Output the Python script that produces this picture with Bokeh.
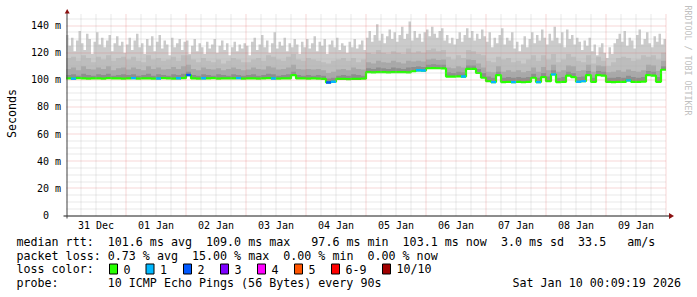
import numpy as np
from bokeh.plotting import figure
from bokeh.models import Range1d
from bokeh.core.properties import value
from bokeh.embed import file_html
from bokeh.resources import INLINE

# ---------------- data ----------------
day_labels = ["31 Dec", "01 Jan", "02 Jan", "03 Jan", "04 Jan",
              "05 Jan", "06 Jan", "07 Jan", "08 Jan", "09 Jan"]
# 2-hour bins, hours since 31 Dec 00:00
bin_hours = list(range(0, 240, 2))
# 1-hour bins for the top of the smoke
hour_bins = list(range(0, 240))

median_ms = [
    101.0, 100.8, 101.2, 101.0, 100.9, 101.1, 101.0, 100.8, 101.2, 101.0, 101.1, 100.9,
    101.0, 101.2, 100.9, 101.0, 101.1, 100.8, 101.0, 101.2, 101.0, 100.9, 101.1, 101.2,
    103.5, 101.0, 100.9, 101.1, 101.0, 101.2, 100.9, 101.0, 101.1, 101.0, 101.2, 100.9,
    101.0, 101.1, 100.9, 101.0, 101.2, 101.0, 100.8, 101.1, 101.0, 103.5, 101.0, 101.1,
    100.9, 101.0, 100.8, 100.6, 98.0, 98.5, 100.6, 100.7, 100.5, 100.7, 100.6, 100.8,
    105.6, 105.5, 105.7, 105.6, 105.5, 105.6, 105.7, 105.6, 105.5, 106.3, 107.0, 106.8,
    108.5, 108.6, 108.5, 108.4, 102.4, 102.3, 102.5, 102.4, 108.0, 108.1, 105.0, 101.5,
    99.0, 98.3, 103.5, 98.3, 98.5, 98.3, 98.4, 98.2, 98.5, 101.5, 98.3, 102.0,
    99.0, 104.0, 98.3, 98.4, 103.0, 102.0, 98.5, 99.0, 103.5, 98.4, 103.5, 103.0,
    98.4, 98.3, 98.5, 98.4, 99.6, 98.5, 98.4, 98.6, 103.5, 103.0, 98.5, 107.4,
]
loss_pings = [
    0, 1, 0, 0, 0, 0, 0, 0, 0, 0, 0, 0,
    0, 1, 0, 0, 0, 0, 1, 0, 0, 0, 1, 0,
    2, 0, 0, 1, 0, 0, 0, 0, 0, 0, 1, 0,
    0, 0, 0, 0, 0, 1, 0, 0, 0, 0, 0, 0,
    0, 0, 0, 0, 2, 1, 0, 0, 0, 0, 0, 0,
    0, 0, 0, 0, 0, 0, 0, 0, 0, 0, 1, 1,
    0, 0, 0, 0, 0, 0, 0, 1, 0, 0, 0, 0,
    0, 1, 0, 0, 0, 1, 0, 0, 0, 0, 1, 0,
    0, 1, 0, 0, 0, 0, 1, 1, 0, 0, 0, 0,
    0, 0, 0, 0, 1, 0, 0, 0, 0, 0, 0, 0,
]
max_ms = [  # hourly
    133, 125, 131, 121, 129, 136, 127, 122, 134, 130, 119, 128, 135, 126, 131, 124, 129, 133, 121, 127, 132, 125, 128, 120,
    126, 131, 122, 129, 134, 124, 127, 119, 130, 125, 132, 121, 128, 133, 123, 129, 126, 118, 131, 124, 127, 130, 122, 128,
    129, 119, 125, 130, 121, 127, 124, 119, 128, 123, 126, 130, 120, 125, 129, 122, 127, 118, 124, 128, 121, 126, 123, 127,
    125, 118, 128, 131, 122, 126, 133, 124, 129, 120, 127, 135, 123, 128, 125, 131, 121, 127, 124, 130, 126, 119, 128, 124,
    130, 123, 127, 132, 121, 128, 125, 130, 119, 126, 129, 124, 131, 122, 127, 125, 120, 128, 124, 130, 123, 126, 129, 122,
    131, 136, 128, 133, 141, 129, 134, 127, 132, 137, 130, 135, 128, 133, 139, 130, 134, 143, 129, 136, 131, 134, 128, 135,
    137, 132, 139, 134, 131, 136, 138, 129, 133, 127, 131, 126, 130, 135, 128, 133, 138, 131, 136, 129, 134, 130, 137, 132,
    128, 135, 124, 131, 127, 133, 138, 126, 131, 129, 135, 123, 128, 121, 126, 132, 124, 130, 135, 127, 133, 129, 137, 131,
    126, 134, 129, 139, 131, 127, 135, 124, 137, 130, 133, 126, 131, 128, 122, 129, 125, 131, 121, 126, 118, 124, 127, 120,
    116, 124, 119, 127, 130, 134, 128, 136, 125, 131, 129, 123, 133, 137, 126, 130, 135, 127, 124, 132, 128, 134, 126, 130,
]
p90_ms = [
    116, 117, 114, 118, 116, 113, 117, 115, 118, 114, 116, 117,
    115, 117, 114, 113, 118, 115, 116, 114, 115, 117, 114, 118,
    118, 115, 113, 116, 114, 113, 115, 112, 114, 116, 115, 113,
    113, 115, 116, 114, 118, 117, 115, 114, 117, 119, 115, 114,
    116, 115, 114, 113, 112, 114, 115, 116, 114, 116, 113, 115,
    120, 119, 122, 120, 119, 121, 120, 119, 123, 120, 121, 120,
    122, 123, 121, 122, 117, 115, 118, 116, 122, 121, 119, 118,
    114, 113, 117, 115, 116, 113, 114, 112, 115, 118, 114, 118,
    115, 119, 113, 115, 119, 117, 114, 113, 118, 112, 117, 114,
    110, 113, 116, 117, 116, 114, 115, 118, 117, 118, 115, 120,
]
p75_ms = [
    108, 109, 107, 110, 108, 107.5, 109, 108, 110, 107, 108.5, 109,
    107.5, 109, 108, 107, 110, 108, 109, 107.5, 108, 109.5, 108, 110,
    111, 108, 107, 109, 108, 107.5, 108.5, 107, 108, 109, 108, 107,
    107.5, 109, 108, 107.5, 110, 109, 107.5, 108, 109, 111, 108, 107.5,
    108, 107.5, 108, 107, 105, 106, 107.5, 108, 107, 109, 108, 107.5,
    113, 112, 114, 113, 112.5, 114, 113, 112, 114, 113.5, 114, 113.5,
    115, 115.5, 114.5, 115, 109, 108.5, 110, 109, 115, 114.5, 112, 109,
    106, 105.5, 110, 106, 107, 106, 107, 105.5, 106.5, 109, 106, 109.5,
    107, 111, 106, 107, 110.5, 110, 106.5, 107, 111, 106, 110.5, 110,
    105.5, 106, 107, 106, 107.5, 106.5, 106, 107, 111, 110.5, 106.5, 114,
]
p60_ms = [
    103.5, 104, 103, 104.5, 103.5, 103, 104, 103.5, 104.5, 103, 103.5, 104,
    103.5, 104, 103, 103.5, 104.5, 103, 104, 103.5, 103, 104, 103.5, 104.5,
    106, 103.5, 103, 104, 103.5, 103, 104, 103.5, 103, 104, 103.5, 103,
    103.5, 104, 103, 103.5, 104.5, 104, 103, 103.5, 104, 106, 103.5, 103,
    103.5, 103, 103.5, 103, 101, 101.5, 103, 103.5, 103, 104, 103.5, 103,
    108.5, 108, 109, 108.5, 108, 109, 108.5, 108, 109, 109.5, 110, 109.5,
    111, 111.5, 111, 111, 105.5, 105, 106, 105.5, 110.5, 110.5, 108, 105,
    102.5, 101.5, 106, 101.5, 102, 101.5, 102, 101.5, 102, 104.5, 101.5, 105,
    102.5, 107, 101.5, 102, 106, 105, 102, 102.5, 106.5, 101.5, 106.5, 106,
    101.5, 101.5, 102, 101.5, 103, 102, 101.5, 102, 106.5, 106, 102, 110,
]

y_ticks = [0, 20, 40, 60, 80, 100, 120, 140]
y_tick_labels = ["0\u00a0\u00a0", "20 m", "40 m", "60 m", "80 m", "100 m", "120 m", "140 m"]

loss_legend = ["0", "1", "2", "3", "4", "5", "6-9", "10/10"]
loss_colors = ["#26ff00", "#00b8ff", "#0059ff", "#7e00ff", "#ff00ff", "#ff5500", "#ff0000", "#a10000"]

median_stats = ["101.6 ms avg", "109.0 ms max", "97.6 ms min", "103.1 ms now", "3.0 ms sd", "33.5", "am/s"]
loss_stats = ["0.73 % avg", "15.00 % max", "0.00 % min", "0.00 % now"]
probe_text = "10 ICMP Echo Pings (56 Bytes) every 90s"
stamp_text = "Sat Jan 10 00:09:19 2026"

# ---------------- layout ----------------
W, H = 697, 297
PXH = 2.5                    # px per hour
PXM = 190.0 / 140.0          # px per ms
ORIGIN_PX = 65.5             # pixel of hour 0 (31 Dec 00:00)
ZERO_PY = 215.0              # pixel of 0 ms
X0 = -ORIGIN_PX / PXH
X1 = (W - ORIGIN_PX) / PXH
Y0 = -(H - ZERO_PY) / PXM
Y1 = ZERO_PY / PXM
T_START, T_END = 0.2, 240.2
Y_TOP = (ZERO_PY - 13) / PXM
MONO = "DejaVu Sans Mono"
LEG_FS = 11.66
AX_FS = 10.0
MID = 0.346                  # em offset from baseline to text middle


def fx(px):
    return (px - ORIGIN_PX) / PXH


def fy(py):
    return (ZERO_PY - py) / PXM


def snap_v(v):
    py = ZERO_PY - v * PXM
    return fy(np.floor(py) + 0.5)


p = figure(width=W, height=H, x_range=Range1d(X0, X1), y_range=Range1d(Y0, Y1),
           output_backend="svg", toolbar_location=None, min_border=0,
           x_axis_location=None, y_axis_location=None,
           background_fill_color="white", border_fill_color="white")
p.outline_line_color = None
p.grid.visible = False

# ---- smoke ----
t = np.array(bin_hours, dtype=float)
xs = np.column_stack([t, t + 2]).ravel()
th = np.array(hour_bins, dtype=float)
xh = np.column_stack([th, th + 1]).ravel()


def st(v):
    return np.repeat(np.asarray(v, dtype=float), 2)


med_s = st(median_ms)
med_h = np.repeat(np.asarray(median_ms, dtype=float), 4)
p.varea(x=xh, y1=med_h, y2=st(max_ms), fill_color="#cbcbcb", fill_alpha=1)
for arr, c in ((p90_ms, "#bdbdbd"), (p75_ms, "#a8a8a8"), (p60_ms, "#8e8e8e")):
    p.varea(x=xs, y1=med_s, y2=st(arr), fill_color=c, fill_alpha=1)

# ---- median line coloured by loss ----
p.line(x=xs, y=med_s, line_color=loss_colors[0], line_width=2.2)
lb = [i for i, n in enumerate(loss_pings) if n > 0]
p.segment(x0=[t[i] for i in lb], x1=[t[i] + 2 for i in lb],
          y0=[median_ms[i] for i in lb], y1=[median_ms[i] for i in lb],
          line_color=[loss_colors[min(loss_pings[i], 7)] for i in lb], line_width=2.4)

# ---- grid (on top, like rrdtool) ----
major_h = [h for h in range(24, 241, 24)]
minor_h = [h for h in range(6, 241, 6) if h % 24]
major_v = [snap_v(v) for v in range(20, 141, 20)]
minor_v = [snap_v(v) for v in range(5, 146, 5) if v % 20]
g_minor = dict(line_color="#b0b0b0", line_alpha=0.55, line_dash="1 1", line_width=1)
g_major = dict(line_color="#e06060", line_alpha=0.5, line_dash="1 1", line_width=1)
p.segment(x0=minor_h, x1=minor_h, y0=[0] * len(minor_h), y1=[Y_TOP] * len(minor_h), **g_minor)
p.segment(x0=[T_START] * len(minor_v), x1=[T_END] * len(minor_v), y0=minor_v, y1=minor_v, **g_minor)
p.segment(x0=major_h, x1=major_h, y0=[0] * len(major_h), y1=[Y_TOP] * len(major_h), **g_major)
p.segment(x0=[T_START] * len(major_v), x1=[T_END] * len(major_v), y0=major_v, y1=major_v, **g_major)

# ---- axis lines and arrows ----
p.line(x=[fx(63), fx(669)], y=[fy(215.5), fy(215.5)], line_color="#1a1a1a", line_width=1)
p.line(x=[fx(66.5), fx(66.5)], y=[fy(218), fy(11)], line_color="#404040", line_width=1)
p.patch(x=[fx(64.2), fx(69.2), fx(66.7)], y=[fy(13), fy(13), fy(8.5)], fill_color="#8b1010", line_color=None)
p.patch(x=[fx(668.5), fx(668.5), fx(673.5)], y=[fy(212.5), fy(218.5), fy(215.5)], fill_color="#8b1010", line_color=None)

# ---- tick labels ----
p.text(x=[12 + 24 * i for i in range(len(day_labels))],
       y=[fy(228.5 - MID * AX_FS)] * len(day_labels), text=day_labels,
       text_align="center", text_baseline="middle", text_font=value(MONO),
       text_font_size="10px", text_color="black")
p.text(x=[fx(60.5)] * len(y_ticks), y=y_ticks, text=y_tick_labels,
       text_align="right", text_baseline="middle", text_font=value(MONO),
       text_font_size="10px", text_color="black")
p.text(x=[fx(11)], y=[fy(113)], text=["Seconds"], angle=np.pi / 2,
       text_align="center", text_baseline="middle", text_font=value(MONO),
       text_font_size="11.66px", text_color="black")
p.text(x=[fx(687.5)], y=[fy(5)], text=["RRDTOOL / TOBI OETIKER"], angle=-np.pi / 2,
       text_align="left", text_baseline="middle", text_font=value(MONO),
       text_font_size="8.3px", text_color="#c0c0c0")

# ---- legend ----
CW = 7.02


def col(c):
    return 16 + c * CW


row_base = [245.5, 259.5, 273.0, 287.0]
row_y = [b - MID * LEG_FS for b in row_base]
tx, ty, tt = [], [], []


def add(px, py, s):
    tx.append(fx(px))
    ty.append(fy(py))
    tt.append(s)


add(col(0), row_y[0], "median rtt:")
for c, s in zip([13, 27, 42, 55, 69, 80, 87], median_stats):
    add(col(c), row_y[0], s)
add(col(0), row_y[1], "packet loss:")
for c, s in zip([13, 25, 38, 50], loss_stats):
    add(col(c), row_y[1], s)
add(col(0), row_y[2], "loss color:")
box_x = [109, 145.5, 183, 220, 257, 294, 331, 382]
for bx, lab in zip(box_x, loss_legend):
    add(bx + 14, row_y[2], lab)
add(col(0), row_y[3], "probe:")
add(col(13), row_y[3], probe_text)
add(680.5 - len(stamp_text) * CW, row_y[3], stamp_text)

p.quad(left=[fx(b) for b in box_x], right=[fx(b + 8) for b in box_x],
       top=[fy(263.5)] * len(box_x), bottom=[fy(273.5)] * len(box_x),
       fill_color=loss_colors, line_color="black", line_width=1)
p.text(x=tx, y=ty, text=tt, text_font=value(MONO), text_font_size="11.66px",
       text_baseline="middle", text_align="left", text_color="black")

open("out.html", "w").write(file_html(p, INLINE))
